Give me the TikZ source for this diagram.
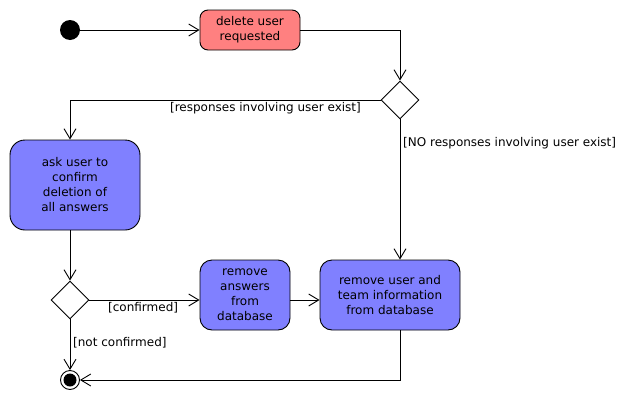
\documentclass[tikz,border=0pt]{standalone}
\usepackage{fontspec}
\setmainfont{DejaVu Sans}
\usetikzlibrary{shapes.geometric, arrows.meta}

\definecolor{reqred}{HTML}{FF8080}
\definecolor{actblue}{HTML}{8080FF}

\begin{document}
\begin{tikzpicture}[x=1pt, y=-1pt,
		every node/.style={font=\fontsize{12}{15}\selectfont, inner sep=0pt},
		action/.style={draw, line width=0.9pt, rectangle, rounded corners=12pt, fill=actblue, align=center},
		decision/.style={draw, line width=0.9pt, diamond, minimum width=38pt, minimum height=38pt, fill=white},
		start/.style={circle, fill=black, minimum size=20pt},
		stop/.style={circle, draw, line width=0.9pt, fill=white, minimum size=19pt,
			path picture={\fill[black] (path picture bounding box.center) circle (6.5pt);}},
		guard/.style={anchor=west, align=left},
		flow/.style={draw, line width=0.9pt, -{Straight Barb[length=10pt, width=12pt]}},
		]
		\useasboundingbox (0,0) rectangle (640,410);

		\node[start] (init) at (70,30) {};
		\node[action, fill=reqred, rounded corners=8pt, minimum width=100pt, minimum height=40pt] (request) at (250,30) {delete user\\requested};
		\node[decision] (exists) at (400,100) {};
		\node[action, rounded corners=15pt, minimum width=130pt, minimum height=90pt] (ask) at (75,185) {ask user to\\confirm\\deletion of\\all answers};
		\node[decision] (confirm) at (70,300) {};
		\node[action, minimum width=90pt, minimum height=70pt] (answers) at (245,295) {remove\\answers\\from\\database};
		\node[action, minimum width=140pt, minimum height=70pt] (purge) at (390,295) {remove user and\\team information\\from database};
		\node[stop] (final) at (70,380) {};

		% guards
		\node[guard, anchor=east] (gyes) at (361,108) {[responses involving user exist]};
		\node[guard] (gno) at (403,143) {[NO responses involving user exist]};
		\node[guard] (gok) at (108,308) {[confirmed]};
		\node[guard] (gnot) at (73,343) {[not confirmed]};

		% transitions
		\draw[flow] (init) -- (request);
		\draw[flow] (request) -| (exists);
		\draw[flow] (exists) -| (ask.north -| confirm);
		\draw[flow] (exists) -- (purge.north -| exists);
		\draw[flow] (ask.south -| confirm) -- (confirm);
		\draw[flow] (confirm) -- (answers.west |- confirm);
		\draw[flow] (answers.east |- confirm) -- (purge.west |- confirm);
		\draw[flow] (confirm) -- (final);
		\draw[flow] (purge.south -| exists) |- (final);
	\end{tikzpicture}
\end{document}
